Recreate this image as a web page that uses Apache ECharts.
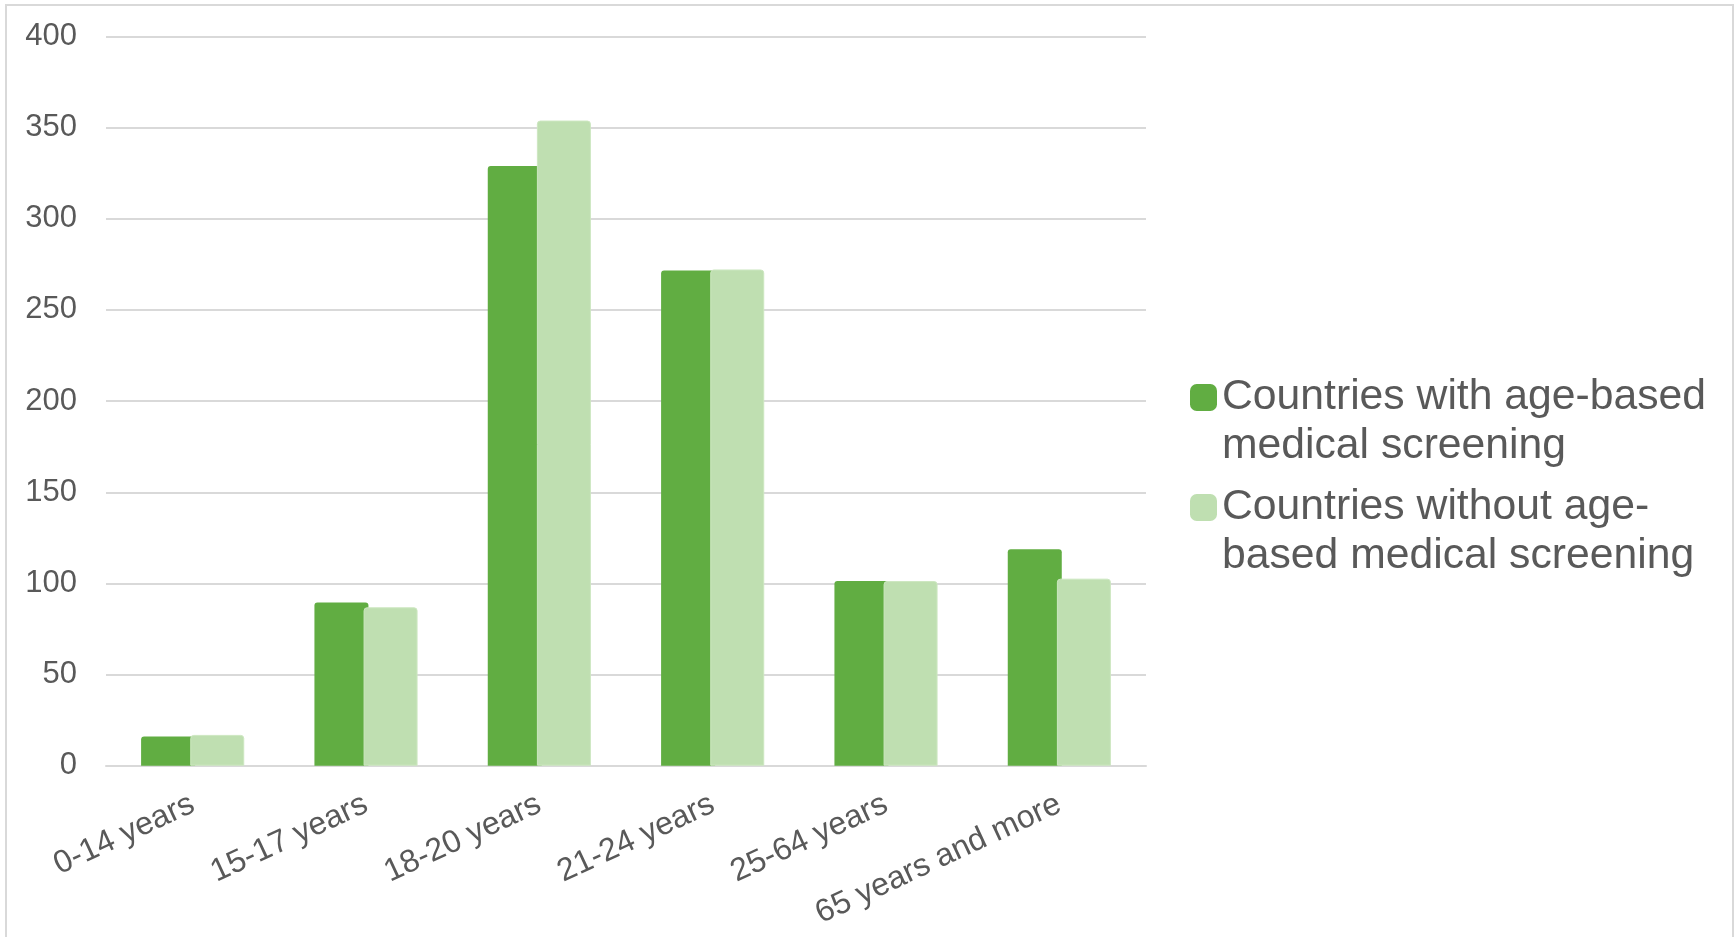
<!DOCTYPE html>
<html>
<head>
<meta charset="utf-8">
<script src="https://cdn.jsdelivr.net/npm/echarts@6/dist/echarts.min.js"></script>
<style>
  html, body { margin: 0; padding: 0; background: #ffffff; }
  #chart { width: 1735px; height: 937px; }
</style>
</head>
<body>
<div id="chart"></div>
<script>
// Age groups on the category axis
const categories = ['0-14 years', '15-17 years', '18-20 years', '21-24 years', '25-64 years', '65 years and more'];

// Series values per age group
const withScreening = [16, 89.5, 329, 271.7, 101.3, 118.8];
const withoutScreening = [16.9, 86.9, 353.9, 272.2, 101.3, 102.6];

// Series names and the line-wrapped legend text
const seriesNames = ['Countries with age-based medical screening', 'Countries without age-based medical screening'];
const legendLines = {
  'Countries with age-based medical screening': ['Countries with age-based', 'medical screening'],
  'Countries without age-based medical screening': ['Countries without age-', 'based medical screening']
};

// Value axis range
const yMin = 0;
const yMax = 400;
const yStep = 50;

const FONT = '"Liberation Sans", Arial, sans-serif';
const TEXT = '#595959';
const GRID = '#d9d9d9';

const chart = echarts.init(document.getElementById('chart'), null, { renderer: 'canvas' });

chart.setOption({
  backgroundColor: '#ffffff',
  animation: false,
  textStyle: { fontFamily: FONT, color: TEXT },
  graphic: [{
    type: 'rect',
    silent: true,
    shape: { x: 6, y: 5, width: 1727, height: 980 },
    style: { fill: 'none', stroke: GRID, lineWidth: 2 }
  }],
  grid: { left: 106, right: 589, top: 36.5, bottom: 171.3 },
  legend: {
    orient: 'vertical',
    left: 1190,
    top: 324,
    padding: 0,
    itemWidth: 27,
    itemHeight: 27,
    itemGap: -37,
    textGap: 11,
    itemStyle: { borderWidth: 0 },
    icon: 'roundRect',
    data: seriesNames,
    // a leading blank line keeps the swatch level with the first text line
    formatter: name => '\n' + legendLines[name].join('\n'),
    textStyle: {
      fontFamily: FONT,
      fontSize: 42.7,
      color: TEXT,
      lineHeight: 49
    },
    selectedMode: false
  },
  xAxis: {
    type: 'category',
    data: categories,
    axisLine: { show: true, lineStyle: { color: GRID, width: 2 } },
    axisTick: { show: false },
    axisLabel: {
      interval: 0,
      rotate: 25,
      margin: 37,
      fontFamily: FONT,
      fontSize: 32,
      color: TEXT
    }
  },
  yAxis: {
    type: 'value',
    min: yMin,
    max: yMax,
    interval: yStep,
    axisLine: { show: false },
    axisTick: { show: false },
    splitLine: { lineStyle: { color: GRID, width: 2 } },
    axisLabel: {
      margin: 29,
      fontFamily: FONT,
      fontSize: 31,
      color: TEXT
    }
  },
  series: [
    {
      name: seriesNames[0],
      type: 'bar',
      data: withScreening,
      barWidth: 54,
      barGap: '-9%',
      itemStyle: { color: '#61ad42', borderRadius: [3, 3, 0, 0] }
    },
    {
      name: seriesNames[1],
      type: 'bar',
      data: withoutScreening,
      barWidth: 54,
      itemStyle: { color: '#bfdfb1', borderColor: '#cde7c1', borderWidth: 1, borderRadius: [3, 3, 0, 0] }
    }
  ]
});
</script>
</body>
</html>
